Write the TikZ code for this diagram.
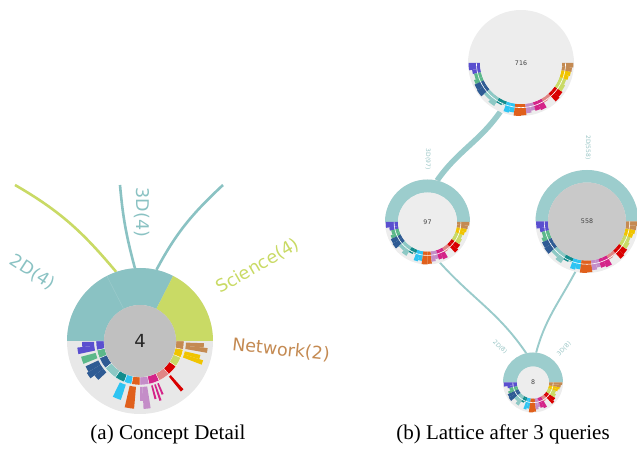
\documentclass[tikz,border=0pt]{standalone}
\usepackage{fontspec}
\setmainfont{Liberation Serif}
\newfontfamily\dejavu{DejaVu Sans}
\usetikzlibrary{positioning}

\definecolor{tealL}{HTML}{8AC2C3}
\definecolor{ringT}{HTML}{9CCDCD}
\definecolor{linkT}{HTML}{9ACBCB}
\definecolor{detBg}{HTML}{E8E8E8}
\definecolor{detIn}{HTML}{C0C0C0}
\definecolor{latBg}{HTML}{EDEDED}
\definecolor{latDk}{HTML}{C9C9C9}
\definecolor{cPur}{HTML}{5A4FCF}
\definecolor{cGrn}{HTML}{5BB88A}
\definecolor{cDbl}{HTML}{2F5B94}
\definecolor{cLtl}{HTML}{8CC8C4}
\definecolor{cTea}{HTML}{128C8C}
\definecolor{cSky}{HTML}{2EC4F2}
\definecolor{cOra}{HTML}{E0601C}
\definecolor{cLpu}{HTML}{C48DC8}
\definecolor{cMag}{HTML}{D42489}
\definecolor{cSal}{HTML}{E08585}
\definecolor{cRed}{HTML}{D90000}
\definecolor{cYgr}{HTML}{C9DA65}
\definecolor{cYel}{HTML}{F0C400}
\definecolor{cTan}{HTML}{C48A52}

\pgfdeclarelayer{edges}
\pgfsetlayers{edges,main}

% bars of a lattice node: #1 node, #2 inner radius, #3 outer radius
\newcommand{\latbars}[3]{%
  \pgfmathsetmacro{\bnd}{#3-#2}
  \foreach \a/\b/\c/\f in {180/188/cPur/.95, 188/193/cPur/.7, 193/200/cGrn/.6, 200/205/cGrn/.75,
      205/212/cDbl/.85, 212/220/cDbl/.9, 220/230/cLtl/.6, 230/238/cLtl/.8, 238/245/cTea/.45,
      245/250/cTea/.35, 250/256/cSky/.85, 256/262/cSky/.75, 262/270/cOra/1, 270/276/cOra/.95,
      276/282/cLpu/.8, 282/287/cLpu/.65, 287/293/cMag/.75, 293/300/cMag/.85, 300/306/cSal/.4,
      306/312/cSal/.35, 312/318/cRed/.9, 318/325/cRed/.8, 325/333/cYgr/.7, 333/340/cYgr/.6,
      340/345/cYel/.7, 345/350/cYel/.8, 350/355/cTan/.85, 355/360/cTan/.95}{
    \pgfmathsetmacro{\ro}{#2+\f*\bnd}
    \fill[\c, shift={(#1)}] (\a:#2) arc[start angle=\a,end angle=\b,radius=#2]
      -- (\b:\ro) arc[start angle=\b,end angle=\a,radius=\ro] -- cycle;
  }
  \pgfmathsetmacro{\rw}{#2+0.3*\bnd}
  \draw[white, line width=0.6pt, shift={(#1)}] (180:\rw) arc[start angle=180,end angle=360,radius=\rw];
}

% upper ring of a lattice node
\newcommand{\latring}[3]{%
  \fill[ringT, shift={(#1)}] (0:#2) arc[start angle=0,end angle=180,radius=#2]
    -- (180:#3) arc[start angle=180,end angle=0,radius=#3] -- cycle;
}

\begin{document}
\begin{tikzpicture}[x=1pt,y=1pt,
  disc/.style={circle,inner sep=0pt,outer sep=0pt,fill=#1},
  lbl/.style={font=\dejavu\fontsize{17.5}{20}\selectfont,inner sep=0pt},
  slbl/.style={font=\dejavu\fontsize{6}{7}\selectfont,inner sep=0pt,text=ringT!90!gray},
  cnt/.style={font=\dejavu\fontsize{6.3}{7}\selectfont,text=black!75},
  lnk/.style={line width=2.6pt},
  band/.style={line width=5.5pt,linkT},
  thinlink/.style={line width=1.9pt,linkT},
  capt/.style={font=\fontsize{21}{24}\selectfont,anchor=base}]
\useasboundingbox (0,0) rectangle (637,449);

% (a) concept detail
\node[disc=detBg,minimum size=146pt] (det) at (140,108) {};
\fill[tealL,shift={(det)}] (63:36) arc[start angle=63,end angle=180,radius=36]
  -- (180:73) arc[start angle=180,end angle=63,radius=73] -- cycle;
\fill[cYgr,shift={(det)}] (0:36) arc[start angle=0,end angle=63,radius=36]
  -- (63:73) arc[start angle=63,end angle=0,radius=73] -- cycle;
\draw[tealL!85!white,line width=0.5pt,shift={(det)}] (117:36) -- (117:73);
\foreach \a/\b/\c in {180/192/cPur, 192/203/cGrn, 203/218/cDbl, 218/236/cLtl, 236/249/cTea,
    249/259/cSky, 259/270/cOra, 270/282/cLpu, 282/296/cMag, 296/311/cSal, 311/325/cRed,
    325/338/cYgr, 338/349/cYel, 349/360/cTan}{
  \fill[\c,draw=white,line width=0.3pt,shift={(det)}] (\a:36) arc[start angle=\a,end angle=\b,radius=36]
    -- (\b:44) arc[start angle=\b,end angle=\a,radius=44] -- cycle;
}
\foreach \a/\b/\c/\r in {181/186/cPur/58, 186/192/cPur/63, 195/202/cGrn/61, 205/211/cDbl/60,
    211/217/cDbl/62, 217/223/cDbl/57, 244/252/cSky/62, 257/265/cOra/68, 270/273/cLpu/60,
    273/279/cLpu/68, 284/286/cMag/60, 288/290/cMag/63, 292/294/cMag/58, 309/312/cRed/65,
    339/343/cYel/66, 343/347/cYel/62, 350/354/cTan/68, 354/358/cTan/64}{
  \fill[\c,shift={(det)}] (\a:46) arc[start angle=\a,end angle=\b,radius=46]
    -- (\b:\r) arc[start angle=\b,end angle=\a,radius=\r] -- cycle;
}
\node[disc=detIn,minimum size=72pt,font=\dejavu\fontsize{18}{20}\selectfont,text=black!85] (detc) at (det) {4};

\coordinate (top1) at (15,264);
\coordinate (top2) at (120,264);
\coordinate (top3) at (223,264);

\node[lbl,text=tealL,rotate=-90] (l3d) at (142,236.5) {3D(4)};
\node[lbl,text=tealL,rotate=-33] (l2d) at (32.5,176.5) {2D(4)};
\node[lbl,text=cYgr,rotate=30] (lsci) at (258,183) {Science(4)};
\node[lbl,text=cTan,rotate=-6] (lnet) at (281,99) {Network(2)};

% (b) lattice
\node[disc=latBg,minimum size=106pt] (n716) at (521,386) {};
\node[disc=latBg,minimum size=85pt] (n97) at (427.5,227) {};
\node[disc=latBg,minimum size=103pt] (n558) at (587,227.5) {};
\node[disc=latBg,minimum size=60pt] (n8) at (533,66.5) {};
\latring{n97}{29.5}{42.5}
\latring{n558}{39}{51.5}
\latring{n8}{16}{30}
\latbars{n716}{41}{53}
\latbars{n97}{29.5}{42.5}
\latbars{n558}{39}{51.5}
\latbars{n8}{16}{30}
\node[disc=latBg,minimum size=82pt,cnt] (c716) at (n716) {716};
\node[disc=latBg,minimum size=59pt,cnt] (c97) at (n97) {97};
\node[disc=latDk,minimum size=78pt,cnt] (c558) at (n558) {558};
\node[disc=latBg,minimum size=32pt,cnt] (c8) at (n8) {8};

\node[slbl,rotate=-90] (e97) at (428,290) {3D(97)};
\node[slbl,rotate=-90] (e558) at (588,301.5) {2D(558)};
\node[slbl,rotate=-45] (e8a) at (500,102) {2D(8)};
\node[slbl,rotate=45] (e8b) at (564,100) {3D(8)};

\begin{pgfonlayer}{edges}
\draw[lnk,cYgr] (top1) to[out=-30,in=130] (det.109);
\draw[lnk,tealL] (top2) to[out=-85,in=105] (det.94);
\draw[lnk,tealL] (top3) to[out=223,in=62] (det.77);
\draw[band] (n716.247) to[out=235,in=55] (n97.77);
\draw[thinlink] (n97.287) to[out=-48,in=124] (n8.103);
\draw[thinlink] (n558.257) to[out=242,in=75] (n8.84);
\end{pgfonlayer}

\node[capt] (capa) at (168,9) {(a) Concept Detail};
\node[capt] (capb) at (503,9) {(b) Lattice after 3 queries};
\end{tikzpicture}
\end{document}
